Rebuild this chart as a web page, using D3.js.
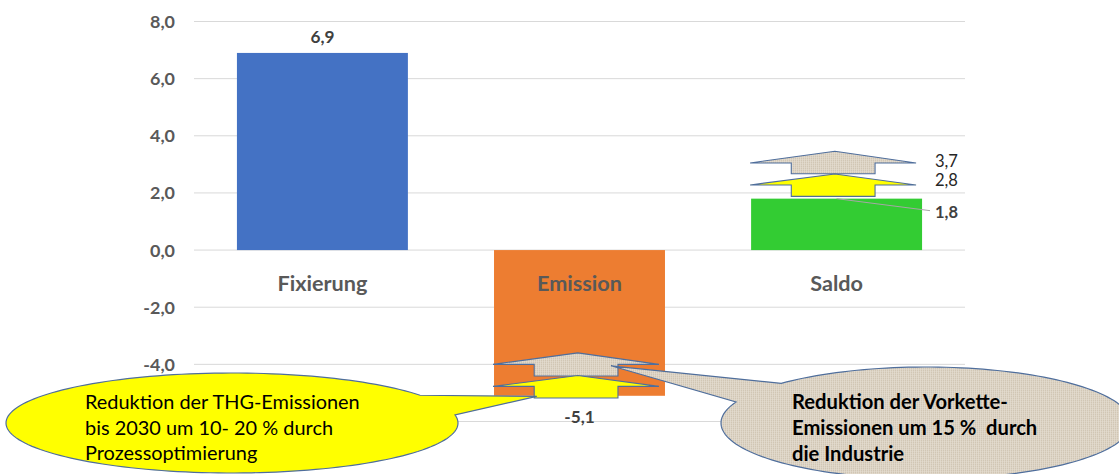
<!DOCTYPE html>
<html><head><meta charset="utf-8">
<script src="https://cdn.jsdelivr.net/npm/d3@7"></script>
<style>html,body{margin:0;padding:0;background:#fff;}svg{display:block;}</style>
</head><body>
<svg id="c" width="1119" height="474"></svg>
<script>
// ---------- data ----------
const categories = ["Fixierung", "Emission", "Saldo"];
const values = [6.9, -5.1, 1.8];
const barColors = ["#4472C4", "#ED7D31", "#33CC33"];
const yGrid = [-6, -4, -2, 0, 2, 4, 6, 8];
const yTickLabels = [-4, -2, 0, 2, 4, 6, 8]; // -6,0 is hidden behind the callout in the original
const saldoTargetValues = [3.7, 2.8];
const saldoTargetLabels = ["3,7", "2,8"];
// reduction arrows: category, apex / wing / base level (chart units), fill
const arrowCats   = ["Emission", "Emission", "Saldo", "Saldo"];
const arrowApex   = [-3.6, -4.39, 3.46, 2.66];
const arrowWing   = [-4.0, -4.77, 3.05, 2.28];
const arrowBase   = [-4.41, -5.18, 2.67, 1.88];
const arrowFills  = ["linen", "yellow", "linen", "yellow"];
const calloutLeft  = ["Reduktion der THG-Emissionen", "bis 2030 um 10- 20 % durch", "Prozessoptimierung"];
const calloutRight = ["Reduktion der Vorkette-", "Emissionen um 15 %  durch", "die Industrie"];

(function () {
const fmt = v => d3.format(".1f")(v).replace(".", ",").replace("\u2212", "-");

const svg = d3.select("#c");
const mLeft = 194, mRight = 965, mTop = 21.5, mBottom = 421.5;
const x = d3.scaleBand().domain(categories).range([mLeft, mRight]).paddingInner(0.335).paddingOuter(0.167);
const y = d3.scaleLinear().domain([-6, 8]).range([mBottom, mTop]);
const FONT = "Lato, 'Open Sans', sans-serif";

function fitSize(sel, target) {
  const fs = parseFloat(sel.attr("font-size"));
  const w = sel.node().getComputedTextLength();
  return fs * target / w;
}

const defs = svg.append("defs");
const pat = defs.append("pattern").attr("id", "linen").attr("width", 4).attr("height", 4)
  .attr("patternUnits", "userSpaceOnUse");
pat.append("rect").attr("width", 4).attr("height", 4).attr("fill", "#DBD1C1");
pat.append("path").attr("d", "M0,0.5H4M0,2.5H4").attr("stroke", "#CBBFAB").attr("stroke-width", 0.6);
pat.append("path").attr("d", "M0.5,0V4M2.5,0V4").attr("stroke", "#E8E1D5").attr("stroke-width", 0.6);

// gridlines
svg.append("g").selectAll("line").data(yGrid).join("line")
  .attr("x1", mLeft).attr("x2", mRight)
  .attr("y1", d => y(d)).attr("y2", d => y(d))
  .attr("stroke", "#D9D9D9").attr("stroke-width", 1);

// y labels
const yl = svg.append("g").selectAll("text").data(yTickLabels).join("text")
  .attr("x", 175).attr("y", d => y(d)).attr("dy", "0.36em")
  .attr("text-anchor", "end").attr("font-family", FONT).attr("font-weight", 700)
  .attr("font-size", 16).attr("fill", "#595959").text(fmt);
yl.attr("font-size", fitSize(yl.filter(d => d === 8), 25));

// bars
svg.append("g").selectAll("rect").data(categories).join("rect")
  .attr("x", d => x(d)).attr("width", x.bandwidth())
  .attr("y", (d, i) => y(Math.max(0, values[i])))
  .attr("height", (d, i) => Math.abs(y(values[i]) - y(0)))
  .attr("fill", (d, i) => barColors[i]);

// category labels
const cl = svg.append("g").selectAll("text").data(categories).join("text")
  .attr("x", d => x(d) + x.bandwidth() / 2).attr("y", y(0) + 41)
  .attr("text-anchor", "middle").attr("font-family", FONT).attr("font-weight", 700)
  .attr("font-size", 20).attr("fill", "#595959").text(d => d);
cl.attr("font-size", fitSize(cl.filter(d => d === "Fixierung"), 90));

// value labels for Fixierung / Emission
const vl = svg.append("g").selectAll("text").data(categories.slice(0, 2)).join("text")
  .attr("x", d => x(d) + x.bandwidth() / 2)
  .attr("y", (d, i) => values[i] >= 0 ? y(values[i]) - 10 : y(values[i]) + 27)
  .attr("text-anchor", "middle").attr("font-family", FONT).attr("font-weight", 700)
  .attr("font-size", 16).attr("fill", "#404040").text((d, i) => fmt(values[i]));
vl.attr("font-size", fitSize(vl.filter(d => d === "Fixierung"), 24));

// arrows
const ag = svg.append("g");
arrowCats.forEach((c, i) => {
  const x0 = x(c), w = x.bandwidth();
  const hx0 = x0 - 1, hx1 = x0 + w * 0.965, ax = x0 + w * 0.49;
  const sx0 = x0 + w * 0.235, sx1 = x0 + w * 0.725;
  const yA = y(arrowApex[i]), yW = y(arrowWing[i]), yB = y(arrowBase[i]);
  const pts = [[hx0, yW], [ax, yA], [hx1, yW], [sx1, yW], [sx1, yB], [sx0, yB], [sx0, yW]];
  ag.append("path").attr("d", d3.line()(pts) + "Z")
    .attr("fill", arrowFills[i] === "linen" ? "url(#linen)" : "#FFFF00")
    .attr("stroke", "#4F6E9C").attr("stroke-width", 1.1).attr("stroke-linejoin", "miter");
});

// Saldo labels
const sx = x("Saldo") + x.bandwidth() / 2;
const lx = 935;
svg.append("line").attr("x1", sx).attr("y1", y(values[2])).attr("x2", lx - 5).attr("y2", y(values[2]) + 12)
  .attr("stroke", "#A6A6A6").attr("stroke-width", 1);
const sl = svg.append("g").selectAll("text").data(saldoTargetValues).join("text")
  .attr("x", lx).attr("y", d => y(d) + (d === 3.7 ? 23 : 16))
  .attr("font-family", FONT).attr("font-size", 16).attr("fill", "#262626")
  .text((d, i) => saldoTargetLabels[i]);
sl.attr("font-size", fitSize(sl.filter(d => d === 3.7), 23));
const s18 = svg.append("text").attr("x", lx).attr("y", y(values[2]) + 19)
  .attr("font-family", FONT).attr("font-weight", 700).attr("font-size", 16).attr("fill", "#404040")
  .text(fmt(values[2]));
s18.attr("font-size", fitSize(s18, 23));

// callouts
function callout(cx, cy, rx, ry, t0, t1, tip) {
  const pts = [tip];
  const n = 160;
  for (let k = 0; k <= n; k++) {
    const t = t0 + (t1 - t0) * k / n;
    pts.push([cx + rx * Math.cos(t), cy + ry * Math.sin(t)]);
  }
  return d3.line()(pts) + "Z";
}
const ex = x("Emission"), ew = x.bandwidth();
const tipY = [ex + ew * 0.25, y(-5.12)];
const tipG = [ex + ew * 0.684, y(-4.05)];

svg.append("path").attr("d", callout(232, 423, 226, 50, -0.163, 2 * Math.PI - 0.588, tipY))
  .attr("fill", "#FFFF00").attr("stroke", "#4F6E9C").attr("stroke-width", 1.2);
svg.append("path").attr("d", callout(926, 423, 205, 56, -2.757, -2.355 - 2 * Math.PI, tipG))
  .attr("fill", "url(#linen)").attr("stroke", "#4F6E9C").attr("stroke-width", 1.2);

const ct1 = svg.append("g").selectAll("text").data(calloutLeft).join("text")
  .attr("x", 85).attr("y", (d, i) => 409 + i * 25.5)
  .attr("font-family", FONT).attr("font-size", 18).attr("fill", "#000").text(d => d);
ct1.attr("font-size", fitSize(ct1.filter((d, i) => i === 0), 275));
const ct2 = svg.append("g").selectAll("text").data(calloutRight).join("text")
  .attr("x", 792).attr("y", (d, i) => 409 + i * 26)
  .attr("font-family", FONT).attr("font-weight", 700).attr("font-size", 18).attr("fill", "#000")
  .attr("xml:space", "preserve").style("white-space", "pre").text(d => d);
ct2.attr("font-size", fitSize(ct2.filter((d, i) => i === 0), 216));
})();
</script>
</body></html>
